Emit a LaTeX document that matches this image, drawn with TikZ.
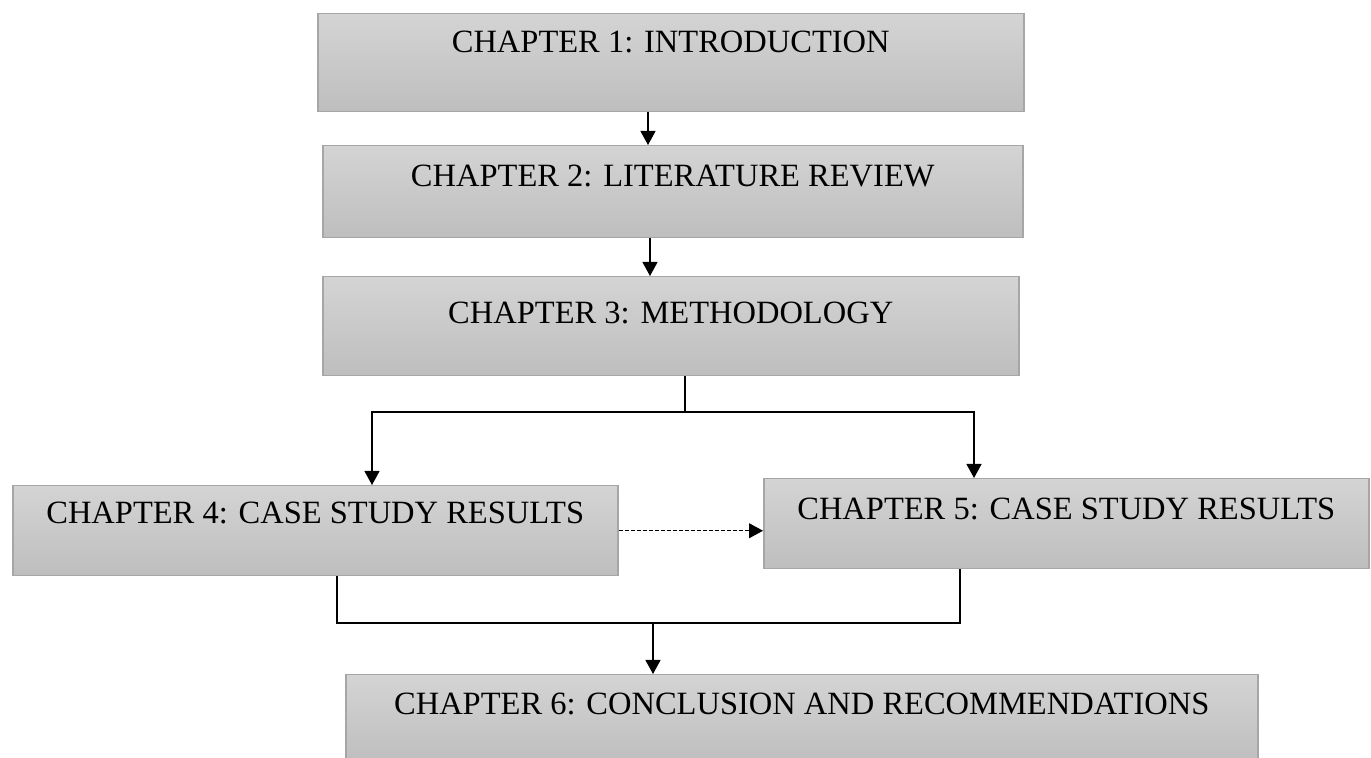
\documentclass[tikz,border=0pt]{standalone}
\usepackage{fontspec}
\setmainfont{Liberation Serif}
\usetikzlibrary{arrows.meta}
\definecolor{boxtop}{HTML}{D4D4D4}
\definecolor{boxbottom}{HTML}{BEBEBE}
\definecolor{boxline}{HTML}{A6A6A6}
\begin{document}
\begin{tikzpicture}[x=0.5pt, y=-0.5pt,
        chapter/.style={rectangle, draw=boxline, line width=0.75pt, top color=boxtop, bottom color=boxbottom,
            inner sep=0pt, anchor=north west, font=\fontsize{16.25}{19}\selectfont},
        flow/.style={-{Triangle[length=7pt, width=7.5pt]}, line width=0.6pt}]
        \useasboundingbox (0,0) rectangle (1371,758);
        \clip (0,0) rectangle (1371,758);

        % Chapter boxes
        \node[chapter, minimum width=353pt, text height=19.5pt, text depth=29.5pt] (ch1) at (317,13) {CHAPTER 1: INTRODUCTION};
        \node[chapter, minimum width=350pt, text height=20.5pt, text depth=25.5pt] (ch2) at (322,145) {CHAPTER 2: LITERATURE REVIEW};
        \node[chapter, minimum width=348pt, text height=23.5pt, text depth=26pt] (ch3) at (322,276) {CHAPTER 3: METHODOLOGY};
        \node[chapter, minimum width=302.5pt, text height=19pt, text depth=26pt] (ch4) at (12,485) {CHAPTER 4: CASE STUDY RESULTS};
        \node[chapter, minimum width=302.5pt, text height=20.5pt, text depth=24.5pt] (ch5) at (763,478) {CHAPTER 5: CASE STUDY RESULTS};
        \node[chapter, minimum width=456pt, text height=20pt, text depth=24pt] (ch6) at (345,674) {CHAPTER 6: CONCLUSION AND RECOMMENDATIONS};

        % Branch and join points
        \coordinate (split) at (685,412);
        \coordinate (left4) at (372,412);
        \coordinate (right5) at (974,412);
        \coordinate (join4) at (337,623);
        \coordinate (join5) at (960,623);
        \coordinate (merge) at (653,623);

        % Straight flow
        \draw[flow] (ch1.south -| 648,0) -- (ch2.north -| 648,0);
        \draw[flow] (ch2.south -| 650,0) -- (ch3.north -| 650,0);

        % Split into chapters 4 and 5
        \draw[line width=0.6pt] (ch3.south -| split) -- (split);
        \draw[flow] (split) -- (left4) -- (left4 |- ch4.north);
        \draw[flow] (split) -- (right5) -- (right5 |- ch5.north);
        \draw[flow, line width=0.5pt, dash pattern=on 2pt off 1pt] (ch4.east) -- (ch4.east -| ch5.west);

        % Join into chapter 6
        \draw[line width=0.6pt] (ch4.south -| join4) -- (join4) -- (join5) -- (ch5.south -| join5);
        \draw[flow] (merge) -- (merge |- ch6.north);
    \end{tikzpicture}
\end{document}
